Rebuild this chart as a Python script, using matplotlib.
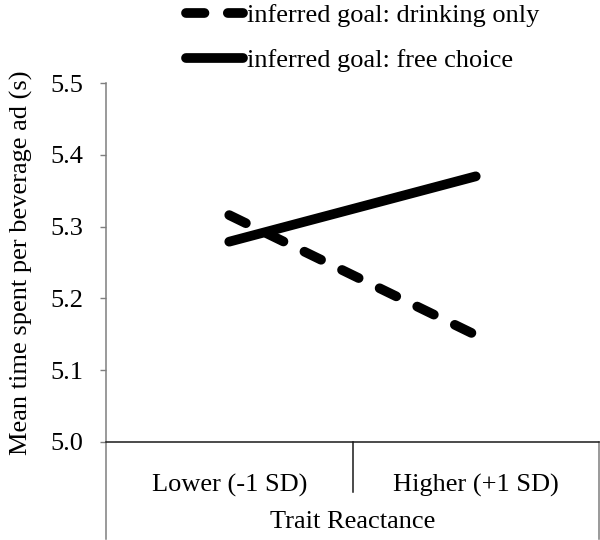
import matplotlib
matplotlib.use("Agg")
import matplotlib.pyplot as plt
from matplotlib.lines import Line2D

plt.rcParams['font.family'] = ['Liberation Serif', 'DejaVu Serif']

categories = ["Lower (-1 SD)", "Higher (+1 SD)"]
drinking_only = [5.316, 5.149]
free_choice = [5.279, 5.370]
series_labels = ["inferred goal: drinking only", "inferred goal: free choice"]
x_title = "Trait Reactance"
y_title = "Mean time spent per beverage ad (s)"
yticks = [5.0, 5.1, 5.2, 5.3, 5.4, 5.5]

fig = plt.figure(figsize=(6, 5.4), dpi=100)
ax = fig.add_axes([106/600, 98/540, 493/600, 359/540])

xs = list(range(len(categories)))
l1, = ax.plot(xs, drinking_only, color='black', lw=7, linestyle=(0, (1.9, 2.4)),
              dash_capstyle='round', solid_capstyle='round', label=series_labels[0])
l2, = ax.plot(xs, free_choice, color='black', lw=7, solid_capstyle='round',
              label=series_labels[1])

ax.set_xlim(-0.5, 1.5)
ax.set_ylim(5.0, 5.5)
ax.set_yticks(yticks)
ax.set_yticklabels([f"{v:.1f}" for v in yticks], fontsize=19)
ax.set_xticks([])
ax.tick_params(axis='y', direction='out', length=4.5, width=1, color='#7f7f7f', pad=12)

for s in ['top', 'right', 'left']:
    ax.spines[s].set_visible(False)
ax.spines['bottom'].set_color('#1a1a1a')
ax.spines['bottom'].set_linewidth(1.1)

tr = ax.get_xaxis_transform()
ax.add_line(Line2D([-0.5, -0.5], [-0.27, 1.0], transform=tr, color='#7f7f7f', lw=1.1, clip_on=False))
ax.add_line(Line2D([1.5, 1.5], [-0.27, 0.0], transform=tr, color='#7f7f7f', lw=1.1, clip_on=False))
ax.add_line(Line2D([0.5, 0.5], [-0.139, 0.0], transform=tr, color='#1a1a1a', lw=1.1, clip_on=False))

for i, c in enumerate(categories):
    ax.text(i, -0.12, c, transform=tr, ha='center', va='center', fontsize=19)
ax.text(0.5, -0.223, x_title, transform=tr, ha='center', va='center', fontsize=19)

ax.set_ylabel(y_title, fontsize=19, labelpad=12)

leg = fig.legend(handles=[l1, l2], loc='upper left', bbox_to_anchor=(186/600, 0.993),
                 frameon=False, fontsize=19, handlelength=2.15, handletextpad=0.15,
                 labelspacing=0.82, borderpad=0, borderaxespad=0)

fig.savefig("out.png", dpi=100)
